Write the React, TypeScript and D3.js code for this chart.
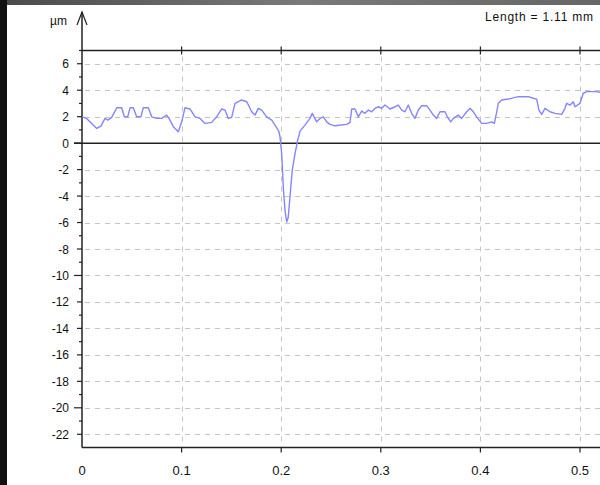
import * as d3 from "d3";

// profile trace: distance (mm) / height (µm)
const profileX = [
  0, 0.0047, 0.0097, 0.0148, 0.019, 0.0231, 0.0261, 0.0298, 0.0349, 0.0399,
  0.0425, 0.0459, 0.0482, 0.0515, 0.0549, 0.0592, 0.0615, 0.0666, 0.07, 0.075,
  0.08, 0.085, 0.0884, 0.0917, 0.0967, 0.1001, 0.1034, 0.1084, 0.1135, 0.1185,
  0.1235, 0.1302, 0.1352, 0.1403, 0.1436, 0.1469, 0.1503, 0.1536, 0.1603, 0.1654,
  0.1704, 0.1737, 0.177, 0.1804, 0.1854, 0.1905, 0.1938, 0.1978, 0.1988, 0.2005,
  0.2021, 0.2038, 0.2055, 0.2071, 0.2088, 0.2111, 0.2139, 0.2166, 0.2189, 0.2239,
  0.2289, 0.2312, 0.2356, 0.239, 0.2423, 0.2457, 0.249, 0.254, 0.2658, 0.2691,
  0.2708, 0.2741, 0.2774, 0.2808, 0.2841, 0.2875, 0.2909, 0.2942, 0.2975, 0.3009,
  0.3042, 0.3092, 0.3143, 0.3176, 0.321, 0.3243, 0.3276, 0.331, 0.3343, 0.3377,
  0.3411, 0.3461, 0.3494, 0.3527, 0.3561, 0.3594, 0.3645, 0.3668, 0.3702, 0.3728,
  0.3778, 0.3812, 0.3862, 0.3896, 0.3929, 0.3963, 0.4013, 0.4063, 0.4113, 0.414,
  0.4164, 0.418, 0.4214, 0.428, 0.4381, 0.4481, 0.4531, 0.4565, 0.4588, 0.4615,
  0.4649, 0.4699, 0.4749, 0.4816, 0.4849, 0.4866, 0.49, 0.4933, 0.495, 0.5,
  0.5033, 0.5068, 0.5168, 0.5201,
];
const profileY = [
  1.99, 1.87, 1.49, 1.11, 1.29, 1.87, 1.74, 1.95, 2.67, 2.67,
  1.99, 1.99, 2.67, 2.67, 1.99, 1.99, 2.67, 2.67, 1.99, 1.87,
  1.87, 2.12, 1.74, 1.23, 0.86, 1.61, 2.67, 2.58, 1.99, 1.87,
  1.49, 1.57, 1.99, 2.58, 2.5, 1.87, 1.95, 3.01, 3.26, 3.13,
  2.37, 2.12, 2.63, 2.5, 1.99, 1.74, 1.36, 0.86, 0.48, -0.78,
  -3.31, -5.08, -5.96, -5.58, -4.07, -2.05, -0.78, 0.23, 0.91, 1.36,
  1.87, 2.25, 1.61, 1.87, 1.99, 1.61, 1.42, 1.31, 1.42, 1.57,
  2.58, 2.58, 1.99, 2.42, 2.25, 2.5, 2.37, 2.63, 2.75, 2.63,
  2.88, 2.58, 2.75, 2.88, 2.5, 2.37, 2.88, 2.25, 1.87, 2.5,
  2.83, 2.83, 2.5, 2.12, 1.87, 2.37, 2.37, 1.99, 1.61, 1.87,
  2.12, 1.87, 2.37, 2.63, 2.37, 1.99, 1.49, 1.49, 1.61, 1.49,
  2.37, 3.01, 3.26, 3.33, 3.51, 3.51, 3.39, 3.33, 2.5, 2.17,
  2.63, 2.37, 2.25, 2.17, 2.63, 3.01, 2.88, 3.13, 2.75, 3.01,
  3.77, 3.89, 3.89, 3.84,
];

const xTicks = [0, 0.1, 0.2, 0.3, 0.4, 0.5];
const xTickLabels = ["0", "0.1", "0.2", "0.3", "0.4", "0.5"];
const yLabelTicks = [6, 4, 2, 0, -2, -4, -6, -8, -10, -12, -14, -16, -18, -20, -22];
const yDomain = [-23, 7];
const lengthLabel = "Length = 1.11 mm";
const unitLabel = "µm";

const W = 600;
const H = 485;
const FONT = "'Liberation Sans', Arial, sans-serif";

export default function App() {
  const x = d3.scaleLinear().domain([0, 0.5]).range([82, 580]);
  const y = d3.scaleLinear().domain(yDomain).range([447.5, 50.5]);
  const x0 = x(0);
  const right = W;

  const pts = profileX.map((d, i) => [d, profileY[i]] as [number, number]);
  const line = d3
    .line<[number, number]>()
    .x((d) => x(d[0]))
    .y((d) => y(d[1]));

  const minor = d3.range(yDomain[0] + 1, yDomain[1] + 1, 1);

  return (
    <svg
      width={W}
      height={H}
      style={{ position: "fixed", left: 0, top: 0, background: "#fff" }}
      fontFamily={FONT}
    >
      <defs>
        <linearGradient id="topband" x1="0" x2="1" y1="0" y2="0">
          <stop offset="0" stopColor="#4a4a4a" />
          <stop offset="0.5" stopColor="#7a7a7a" />
          <stop offset="1" stopColor="#666" />
        </linearGradient>
      </defs>
      <rect x={0} y={0} width={W} height={H} fill="#fff" />
      <rect x={0} y={0} width={W} height={5} fill="url(#topband)" />
      <rect x={0} y={0} width={7} height={H} fill="#111" />

      {/* grid */}
      <g stroke="#c4c4c4" strokeWidth={1} strokeDasharray="5,5">
        {yLabelTicks
          .filter((v) => v !== 0)
          .map((v) => (
            <line key={"gy" + v} x1={x0 + 3} x2={right} y1={Math.round(y(v)) + 0.5} y2={Math.round(y(v)) + 0.5} />
          ))}
        {xTicks
          .filter((v) => v !== 0)
          .map((v) => (
            <line key={"gx" + v} x1={Math.round(x(v)) + 0.5} x2={Math.round(x(v)) + 0.5} y1={y(yDomain[1]) + 6} y2={y(yDomain[0])} />
          ))}
      </g>

      {/* frame and axes */}
      <g stroke="#222" strokeWidth={1.5} fill="none">
        <line x1={x0} x2={right} y1={y(yDomain[1])} y2={y(yDomain[1])} />
        <line x1={x0 - 8} x2={right} y1={y(0)} y2={y(0)} />
        <line x1={x0} x2={right} y1={y(yDomain[0])} y2={y(yDomain[0])} />
        <line x1={x0} x2={x0} y1={12} y2={y(yDomain[0])} />
        <path d={`M${x0 - 5},25 L${x0},12 L${x0 + 5},25`} strokeWidth={1.2} />
        {minor.map((v) => {
          const len = v % 10 === 0 ? 8 : v % 2 === 0 ? 5 : 3;
          return <line key={"ty" + v} x1={x0 - len} x2={x0} y1={y(v)} y2={y(v)} strokeWidth={1.2} />;
        })}
        {xTicks
          .filter((v) => v !== 0)
          .map((v) => (
            <g key={"tx" + v}>
              <line x1={x(v)} x2={x(v)} y1={y(yDomain[0])} y2={y(yDomain[0]) + 5} strokeWidth={1.2} />
              <line x1={x(v)} x2={x(v)} y1={y(yDomain[1]) - 4} y2={y(yDomain[1]) + 4} strokeWidth={1.2} />
            </g>
          ))}
      </g>

      {/* profile */}
      <path d={line(pts) ?? ""} fill="none" stroke="#8585ff" strokeWidth={1.4} strokeLinejoin="round" />

      {/* labels */}
      <g fontSize={12} fill="#111">
        {yLabelTicks.map((v) => (
          <text key={"ly" + v} x={69} y={y(v) + 4.5} textAnchor="end">
            {v < 0 ? "-" + Math.abs(v) : String(v)}
          </text>
        ))}
        {xTicks.map((v, i) => (
          <text key={"lx" + v} x={x(v)} y={475} textAnchor="middle" fontSize={13}>
            {xTickLabels[i]}
          </text>
        ))}
        <text x={50} y={25}>{unitLabel}</text>
        <text x={485} y={21} textLength={108} lengthAdjust="spacing">
          {lengthLabel}
        </text>
      </g>
    </svg>
  );
}
